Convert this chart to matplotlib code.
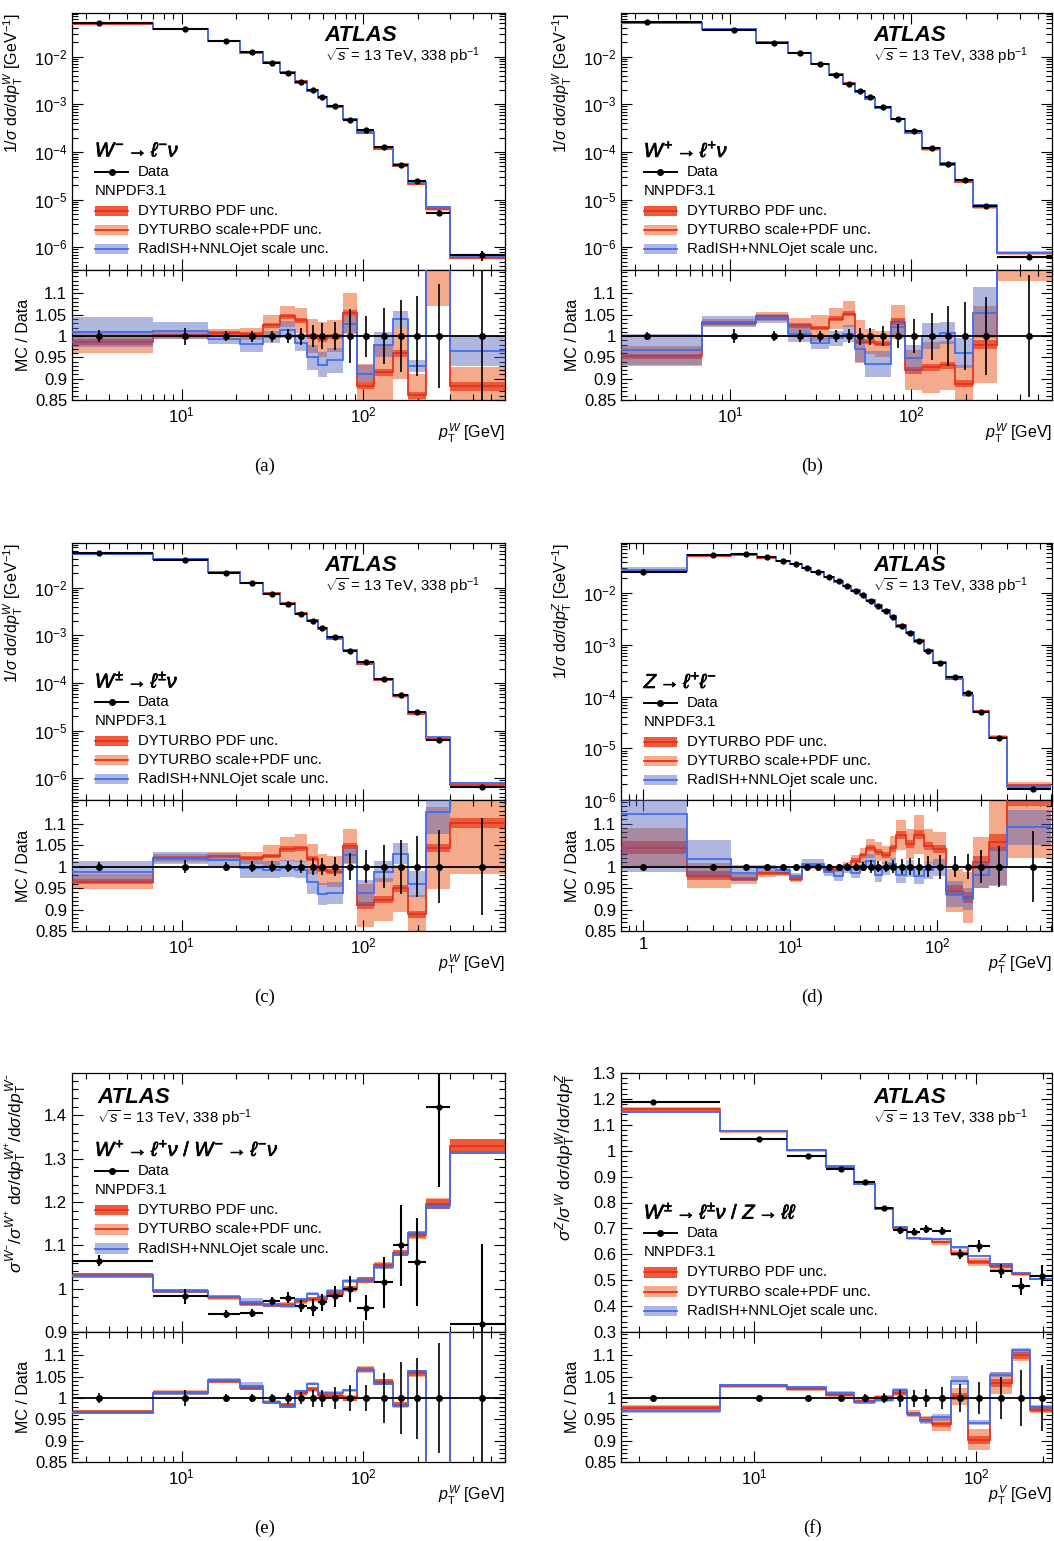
import numpy as np
import matplotlib
matplotlib.use("Agg")
import matplotlib.pyplot as plt
from matplotlib.lines import Line2D
from matplotlib.patches import Rectangle
from matplotlib import patheffects
from matplotlib.ticker import (LogLocator, NullFormatter, FixedLocator,
                               MultipleLocator, FuncFormatter)

plt.rcParams["font.family"] = ["Liberation Sans", "DejaVu Sans"]
plt.rcParams["mathtext.fontset"] = "custom"
plt.rcParams["mathtext.rm"] = "Liberation Sans"
plt.rcParams["mathtext.it"] = "Liberation Sans:italic"
plt.rcParams["mathtext.bf"] = "Liberation Sans:bold"
plt.rcParams["font.size"] = 10.8

# %% bin edges
edges_w = [0, 7, 14, 21, 28, 35, 42, 49, 56, 63, 77, 92, 115, 145, 175, 220, 300, 600]
edges_f = [0, 7, 14, 21, 28, 35, 42, 49, 56, 63, 77, 92, 115, 145, 175, 220]
edges_z = [0, 2, 4, 6, 8, 10, 12, 14, 17, 20, 23, 26, 30, 33, 38, 42, 48, 53, 62,
           70, 81, 94, 115, 150, 175, 225, 300, 600]

# %% (a) W- -> l- nu
wm_data = [5.0e-2, 3.8e-2, 2.13e-2, 1.23e-2, 7.5e-3, 4.6e-3, 2.9e-3, 2.0e-3, 1.44e-3,
           9.2e-4, 4.75e-4, 2.88e-4, 1.27e-4, 5.3e-5, 2.5e-5, 5.3e-6, 6.8e-7]
wm_err = [0.015, 0.02, 0.011, 0.013, 0.013, 0.016, 0.02, 0.026, 0.03, 0.033, 0.064,
          0.048, 0.065, 0.085, 0.094, 0.123, 0.25]
wm_dy = [0.986, 1.002, 1.007, 1.005, 1.025, 1.046, 1.037, 1.0, 0.992, 1.0, 1.054,
         0.884, 0.915, 0.96, 0.861, 1.18, 0.882]
wm_dy_pdf = [0.008, 0.004, 0.004, 0.005, 0.006, 0.006, 0.006, 0.006, 0.006, 0.006,
             0.008, 0.008, 0.008, 0.008, 0.008, 0.012, 0.01]
wm_dy_tot = [0.025, 0.008, 0.01, 0.015, 0.024, 0.025, 0.03, 0.04, 0.04, 0.037, 0.048,
             0.05, 0.065, 0.06, 0.05, 0.11, 0.045]
wm_rad = [1.009, 1.013, 0.992, 0.982, 0.998, 1.015, 0.984, 0.95, 0.933, 0.943, 1.028,
          0.912, 0.98, 1.039, 0.93, 1.3, 0.964]
wm_rad_hw = [0.035, 0.02, 0.01, 0.02, 0.015, 0.02, 0.02, 0.03, 0.03, 0.03, 0.02, 0.02,
             0.03, 0.02, 0.015, 0.1, 0.035]

# %% (b) W+ -> l+ nu
wp_data = [5.2e-2, 3.64e-2, 1.91e-2, 1.17e-2, 7.0e-3, 4.18e-3, 2.66e-3, 1.89e-3, 1.39e-3,
           8.85e-4, 4.8e-4, 2.77e-4, 1.23e-4, 5.7e-5, 2.62e-5, 7.2e-6, 6.2e-7]
wp_err = [0.01, 0.016, 0.012, 0.014, 0.013, 0.014, 0.017, 0.02, 0.02, 0.023, 0.028,
          0.04, 0.055, 0.07, 0.08, 0.092, 0.143]
wp_dy = [0.953, 1.031, 1.046, 1.025, 1.019, 1.041, 1.052, 0.987, 0.987, 0.982, 1.034,
         0.92, 0.927, 0.931, 0.888, 0.98, 1.2]
wp_dy_pdf = [0.006, 0.004, 0.004, 0.005, 0.005, 0.006, 0.006, 0.006, 0.006, 0.006,
             0.008, 0.008, 0.008, 0.008, 0.008, 0.01, 0.015]
wp_dy_tot = [0.023, 0.008, 0.01, 0.018, 0.03, 0.025, 0.03, 0.05, 0.03, 0.03, 0.04,
             0.047, 0.06, 0.057, 0.045, 0.09, 0.07]
wp_rad = [0.968, 1.034, 1.041, 1.005, 0.984, 0.995, 1.005, 0.97, 0.935, 0.935, 1.021,
          0.948, 1.0, 1.007, 0.96, 1.055, 1.25]
wp_rad_hw = [0.037, 0.012, 0.01, 0.02, 0.015, 0.018, 0.02, 0.03, 0.03, 0.03, 0.02,
             0.03, 0.03, 0.025, 0.035, 0.06, 0.08]

# %% (c) W+- -> l+- nu
wc_data = [5.3e-2, 3.85e-2, 2.07e-2, 1.24e-2, 7.47e-3, 4.52e-3, 2.82e-3, 2.04e-3,
           1.45e-3, 9.1e-4, 4.7e-4, 2.78e-4, 1.24e-4, 5.5e-5, 2.48e-5, 6.4e-6, 6.5e-7]
wc_err = [0.01, 0.015, 0.01, 0.012, 0.012, 0.013, 0.015, 0.02, 0.02, 0.022, 0.032,
          0.038, 0.05, 0.063, 0.071, 0.085, 0.113]
wc_dy = [0.965, 1.02, 1.024, 1.02, 1.024, 1.041, 1.043, 1.018, 0.993, 0.988, 1.048,
         0.91, 0.923, 0.949, 0.889, 1.043, 1.102]
wc_dy_pdf = [0.006, 0.004, 0.004, 0.005, 0.005, 0.006, 0.006, 0.006, 0.006, 0.006,
             0.008, 0.008, 0.008, 0.008, 0.008, 0.01, 0.012]
wc_dy_tot = [0.018, 0.01, 0.01, 0.015, 0.026, 0.028, 0.032, 0.035, 0.036, 0.036,
             0.04, 0.05, 0.05, 0.055, 0.045, 0.095, 0.12]
wc_rad = [0.988, 1.02, 1.016, 0.996, 0.993, 0.996, 0.993, 0.965, 0.936, 0.938, 1.026,
          0.938, 0.988, 1.03, 0.959, 1.127, 1.25]
wc_rad_hw = [0.025, 0.015, 0.015, 0.022, 0.02, 0.02, 0.02, 0.03, 0.025, 0.025, 0.02,
             0.03, 0.025, 0.025, 0.03, 0.05, 0.05]

# %% (d) Z -> ll
z_data = [0.0252, 0.0538, 0.0571, 0.0493, 0.0425, 0.0372, 0.0306, 0.0252, 0.0205,
          0.0169, 0.0135, 0.0111, 0.0090, 0.0071, 0.0057, 0.0046, 0.0034, 0.00227,
          0.00168, 0.00116, 7.6e-4, 4.4e-4, 2.36e-4, 1.15e-4, 5.1e-5, 1.55e-5, 1.66e-6]
z_err = [0.004, 0.004, 0.004, 0.004, 0.004, 0.004, 0.005, 0.006, 0.006, 0.007, 0.008,
         0.008, 0.01, 0.015, 0.012, 0.012, 0.015, 0.017, 0.02, 0.02, 0.025, 0.028,
         0.025, 0.03, 0.038, 0.048, 0.082]
z_dy = [1.044, 0.979, 0.971, 0.984, 0.984, 0.971, 1.002, 1.001, 0.993, 0.993, 1.002,
        1.014, 1.026, 1.043, 1.035, 1.027, 1.043, 1.073, 1.053, 1.074, 1.048, 1.041,
        0.944, 0.928, 1.01, 1.057, 1.17]
z_dy_pdf = [0.015, 0.01, 0.005, 0.004, 0.004, 0.004, 0.003, 0.003, 0.003, 0.004, 0.004,
            0.005, 0.006, 0.007, 0.007, 0.007, 0.008, 0.009, 0.009, 0.01, 0.01, 0.01,
            0.012, 0.012, 0.015, 0.02, 0.03]
z_dy_tot = [0.045, 0.03, 0.012, 0.008, 0.006, 0.006, 0.005, 0.005, 0.005, 0.006, 0.008,
            0.012, 0.018, 0.022, 0.022, 0.022, 0.028, 0.035, 0.035, 0.045, 0.04, 0.04,
            0.05, 0.06, 0.06, 0.1, 0.15]
z_rad = [1.123, 1.018, 0.985, 0.996, 0.991, 0.979, 1.006, 1.006, 0.988, 0.979, 0.996,
         0.985, 1.002, 1.014, 0.98, 0.996, 1.006, 0.98, 0.995, 0.979, 0.991, 0.998,
         0.936, 0.924, 0.98, 1.0, 1.091]
z_rad_hw = [0.135, 0.045, 0.018, 0.008, 0.006, 0.006, 0.012, 0.012, 0.01, 0.012, 0.01,
            0.012, 0.012, 0.015, 0.015, 0.015, 0.015, 0.018, 0.02, 0.02, 0.02, 0.02,
            0.03, 0.025, 0.03, 0.045, 0.04]

# %% (e) W+ / W- ratio
pm_data = [1.065, 0.982, 0.942, 0.943, 0.972, 0.979, 0.96, 0.956, 0.969, 0.982, 1.0,
           0.956, 1.015, 1.1, 1.062, 1.42, 0.919]
pm_err = [0.012, 0.018, 0.01, 0.01, 0.01, 0.013, 0.015, 0.02, 0.02, 0.025, 0.03, 0.03,
          0.058, 0.085, 0.095, 0.13, 0.2]
pm_dy = [0.968, 1.013, 1.04, 1.024, 0.99, 0.984, 1.012, 1.021, 1.008, 1.006, 1.0, 1.067,
         1.038, 0.984, 1.058, 0.842, 1.447]
pm_dy_pdf = [0.004, 0.004, 0.004, 0.004, 0.004, 0.004, 0.005, 0.005, 0.005, 0.005,
             0.006, 0.007, 0.006, 0.006, 0.007, 0.008, 0.016]
pm_dy_tot = [0.005, 0.005, 0.005, 0.005, 0.005, 0.005, 0.006, 0.006, 0.006, 0.006,
             0.007, 0.008, 0.007, 0.007, 0.008, 0.009, 0.018]
pm_rad = [0.966, 1.012, 1.042, 1.028, 0.99, 0.98, 1.016, 1.034, 1.013, 1.013, 1.018,
          1.067, 1.034, 0.982, 1.063, 0.838, 1.43]
pm_rad_hw = [0.004, 0.004, 0.004, 0.01, 0.004, 0.004, 0.004, 0.004, 0.004, 0.004,
             0.004, 0.004, 0.004, 0.004, 0.004, 0.004, 0.004]

# %% (f) W / Z ratio
wz_data = [1.187, 1.045, 0.98, 0.928, 0.879, 0.779, 0.693, 0.687, 0.696, 0.69, 0.602,
           0.632, 0.535, 0.476, 0.517]
wz_err = [0.005, 0.005, 0.005, 0.006, 0.01, 0.012, 0.02, 0.02, 0.022, 0.025, 0.033,
          0.038, 0.05, 0.066, 0.078]
wz_dy = [0.977, 1.029, 1.022, 1.008, 0.992, 1.002, 1.012, 0.963, 0.949, 0.938, 1.004,
         0.902, 1.035, 1.1, 0.973]
wz_dy_pdf = [0.005, 0.004, 0.004, 0.004, 0.004, 0.004, 0.005, 0.005, 0.006, 0.006,
             0.008, 0.01, 0.01, 0.008, 0.006]
wz_dy_tot = [0.006, 0.005, 0.005, 0.005, 0.005, 0.005, 0.006, 0.008, 0.01, 0.015,
             0.02, 0.025, 0.025, 0.012, 0.008]
wz_rad = [0.969, 1.03, 1.025, 1.012, 0.99, 0.995, 1.02, 0.963, 0.947, 0.955, 1.041,
          0.942, 1.055, 1.112, 0.979]
wz_rad_hw = [0.004, 0.004, 0.004, 0.004, 0.004, 0.004, 0.004, 0.004, 0.005, 0.008,
             0.01, 0.006, 0.006, 0.006, 0.005]

# colours
SALMON = "#F5AA8C"
DARKRED = "#EC5A3A"
RED = "#E8321E"
LAVENDER = "#5060B8"
BLUE = "#3E6FF2"
BAND_ALPHA = 0.45
TICKSIZE = 12

W, H = 1054, 1541
fig = plt.figure(figsize=(W / 100, H / 100), dpi=100)


def make_axes(col, row):
    left = [72, 621][col]
    width = [433, 431][col]
    mtop, mbot, rbot = [(13, 270, 400), (543, 800, 931), (1073, 1332, 1462)][row]
    ax = fig.add_axes([left / W, 1 - mbot / H, width / W, (mbot - mtop) / H])
    rax = fig.add_axes([left / W, 1 - rbot / H, width / W, (rbot - mbot) / H])
    return ax, rax


def draw(ax, rax, edges, xlo, data, err, dy, dy_pdf, dy_tot, rad, rad_hw):
    edges = np.array(edges, float)
    e = edges.copy()
    e[0] = xlo
    cen = 0.5 * (edges[:-1] + edges[1:])
    data, err = np.asarray(data), np.asarray(err)
    dy, dy_pdf, dy_tot = np.asarray(dy), np.asarray(dy_pdf), np.asarray(dy_tot)
    rad, rad_hw = np.asarray(rad), np.asarray(rad_hw)

    for a, s in ((ax, data), (rax, np.ones_like(data))):
        a.stairs(s * (dy + dy_tot), e, baseline=s * (dy - dy_tot), fill=True,
                 color=SALMON, lw=0, zorder=1)
        a.stairs(s * (dy + dy_pdf), e, baseline=s * (dy - dy_pdf), fill=True,
                 color=DARKRED, lw=0, zorder=2)
        a.stairs(s * dy, e, baseline=None, color=RED, lw=1.3, zorder=3)
        a.stairs(s * (rad + rad_hw), e, baseline=s * (rad - rad_hw), fill=True,
                 color=LAVENDER, alpha=BAND_ALPHA, lw=0, zorder=4)
        a.stairs(s * rad, e, baseline=None, color=BLUE, lw=1.3, zorder=5)

    ax.errorbar(cen, data, yerr=data * err, xerr=[cen - e[:-1], e[1:] - cen],
                fmt="o", color="k", ms=3.5, lw=1.5, capsize=0, zorder=7)
    rax.axhline(1.0, color="k", lw=1.3, zorder=6)
    rax.errorbar(cen, np.ones_like(cen), yerr=err, fmt="o", color="k", ms=4,
                 lw=1.2, capsize=0, zorder=7)


def style(ax, rax, xlim, xlabel, ylabel, logy, ylim, yticks=None, zformat=False,
          ylabelsize=11.5, ylabelx=-0.108):
    for a in (ax, rax):
        a.set_xscale("log")
        a.set_xlim(xlim)
        a.xaxis.set_minor_locator(LogLocator(subs=np.arange(2, 10) * 1.0, numticks=30))
        a.tick_params(which="both", direction="in", top=True, right=True,
                      labelsize=TICKSIZE, width=0.8)
        a.tick_params(which="major", length=8)
        a.tick_params(which="minor", length=4.5)
        for sp in a.spines.values():
            sp.set_linewidth(0.9)
    ax.tick_params(labelbottom=False)
    rax.tick_params(axis="x", pad=4)
    if zformat:
        rax.xaxis.set_major_formatter(FuncFormatter(
            lambda v, _: "1" if abs(v - 1) < 1e-9 else r"$10^{%d}$" % round(np.log10(v))))
    if logy:
        ax.set_yscale("log")
        ax.yaxis.set_major_locator(LogLocator(base=10, numticks=20))
        ax.yaxis.set_minor_locator(LogLocator(subs=np.arange(2, 10) * 1.0, numticks=50))
        ax.yaxis.set_minor_formatter(NullFormatter())
    else:
        ax.yaxis.set_major_locator(FixedLocator(yticks))
        ax.yaxis.set_minor_locator(MultipleLocator(0.02))
        ax.yaxis.set_major_formatter(FuncFormatter(lambda v, _: f"{v:g}"))
    ax.set_ylim(ylim)
    rax.set_ylim(0.85, 1.155)
    rax.yaxis.set_major_locator(FixedLocator([0.85, 0.9, 0.95, 1.0, 1.05, 1.1]))
    rax.yaxis.set_minor_locator(MultipleLocator(0.01))
    rax.yaxis.set_major_formatter(FuncFormatter(lambda v, _: f"{v:g}"))

    ax.set_ylabel(ylabel, loc="top", fontsize=ylabelsize)
    ax.yaxis.set_label_coords(ylabelx, 1.0)
    rax.set_ylabel("MC / Data", fontsize=11.5)
    rax.yaxis.set_label_coords(-0.095, 0.5)
    rax.set_xlabel(xlabel, loc="right", fontsize=11.5)
    rax.xaxis.set_label_coords(1.0, -0.17)


def atlas(ax, x, y):
    ax.text(x, y, "ATLAS", transform=ax.transAxes, fontsize=16, fontweight="bold",
            fontstyle="italic", va="center")
    ax.text(x, y - 0.083, r"$\sqrt{s}$ = 13 TeV, 338 pb$^{-1}$", transform=ax.transAxes,
            fontsize=10.8, va="center")


def legend(ax, title, y0):
    x0, w, h = 0.053, 0.077, 0.04
    xt = x0 + 0.099
    t = ax.text(x0, y0, title, transform=ax.transAxes, fontsize=14.5, va="center")
    t.set_path_effects([patheffects.withStroke(linewidth=0.5, foreground="k")])
    r_data, r_nn, r_pdf, r_tot, r_rad = [y0 - d for d in (0.082, 0.156, 0.233, 0.307, 0.381)]

    ax.add_line(Line2D([x0, x0 + w], [r_data, r_data], transform=ax.transAxes,
                       color="k", lw=1.4, clip_on=False))
    ax.add_line(Line2D([x0 + w / 2], [r_data], transform=ax.transAxes, color="k",
                       marker="o", ms=4, clip_on=False))
    ax.text(xt, r_data, "Data", transform=ax.transAxes, va="center")
    ax.text(x0, r_nn, "NNPDF3.1", transform=ax.transAxes, va="center")

    entries = [(r_pdf, DARKRED, 1.0, RED, "DYTURBO PDF unc."),
               (r_tot, SALMON, 1.0, RED, "DYTURBO scale+PDF unc."),
               (r_rad, LAVENDER, BAND_ALPHA, BLUE, "RadISH+NNLOjet scale unc.")]
    for y, fc, al, lc, lab in entries:
        ax.add_patch(Rectangle((x0, y - h / 2), w, h, transform=ax.transAxes,
                               facecolor=fc, alpha=al, lw=0, clip_on=False))
        ax.add_line(Line2D([x0, x0 + w], [y, y], transform=ax.transAxes, color=lc,
                           lw=1.3, clip_on=False))
        ax.text(xt, y, lab, transform=ax.transAxes, va="center")


xl_w = r"$p_{\mathrm{T}}^{W}$ [GeV]"
yl_w = r"$1/\sigma\ \mathrm{d}\sigma/\mathrm{d}p_{\mathrm{T}}^{W}$ [GeV$^{-1}$]"
yl_z = r"$1/\sigma\ \mathrm{d}\sigma/\mathrm{d}p_{\mathrm{T}}^{Z}$ [GeV$^{-1}$]"

# (a)
ax, rax = make_axes(0, 0)
draw(ax, rax, edges_w, 2.5, wm_data, wm_err, wm_dy, wm_dy_pdf, wm_dy_tot, wm_rad, wm_rad_hw)
style(ax, rax, (2.5, 600), xl_w, yl_w, True, (3.33e-7, 0.082))
atlas(ax, 0.584, 0.914)
legend(ax, r"$W^{-}\rightarrow\ell^{-}\nu$", 0.463)

# (b)
ax, rax = make_axes(1, 0)
draw(ax, rax, edges_w, 2.5, wp_data, wp_err, wp_dy, wp_dy_pdf, wp_dy_tot, wp_rad, wp_rad_hw)
style(ax, rax, (2.5, 600), xl_w, yl_w, True, (3.33e-7, 0.082))
atlas(ax, 0.585, 0.914)
legend(ax, r"$W^{+}\rightarrow\ell^{+}\nu$", 0.463)

# (c)
ax, rax = make_axes(0, 1)
draw(ax, rax, edges_w, 2.5, wc_data, wc_err, wc_dy, wc_dy_pdf, wc_dy_tot, wc_rad, wc_rad_hw)
style(ax, rax, (2.5, 600), xl_w, yl_w, True, (3.5e-7, 0.087))
atlas(ax, 0.584, 0.914)
legend(ax, r"$W^{\pm}\rightarrow\ell^{\pm}\nu$", 0.463)

# (d)
ax, rax = make_axes(1, 1)
draw(ax, rax, edges_z, 0.71, z_data, z_err, z_dy, z_dy_pdf, z_dy_tot, z_rad, z_rad_hw)
style(ax, rax, (0.71, 605), r"$p_{\mathrm{T}}^{Z}$ [GeV]", yl_z, True, (1e-6, 0.093),
      zformat=True)
atlas(ax, 0.585, 0.914)
legend(ax, r"$Z\rightarrow\ell^{+}\ell^{-}$", 0.459)

# (e)
ax, rax = make_axes(0, 2)
draw(ax, rax, edges_w, 2.5, pm_data, pm_err, pm_dy, pm_dy_pdf, pm_dy_tot, pm_rad, pm_rad_hw)
style(ax, rax, (2.5, 600), xl_w,
      r"$\sigma^{W^{-}}/\sigma^{W^{+}}\ \mathrm{d}\sigma/\mathrm{d}p_{\mathrm{T}}^{W^{+}}"
      r"/\mathrm{d}\sigma/\mathrm{d}p_{\mathrm{T}}^{W^{-}}$",
      False, (0.9, 1.498), yticks=[0.9, 1.0, 1.1, 1.2, 1.3, 1.4], ylabelsize=12.5,
      ylabelx=-0.1)
atlas(ax, 0.058, 0.907)
legend(ax, r"$W^{+}\rightarrow\ell^{+}\nu\ /\ W^{-}\rightarrow\ell^{-}\nu$", 0.703)

# (f)
ax, rax = make_axes(1, 2)
draw(ax, rax, edges_f, 2.5, wz_data, wz_err, wz_dy, wz_dy_pdf, wz_dy_tot, wz_rad, wz_rad_hw)
style(ax, rax, (2.5, 220), r"$p_{\mathrm{T}}^{V}$ [GeV]",
      r"$\sigma^{Z}/\sigma^{W}\ \mathrm{d}\sigma/\mathrm{d}p_{\mathrm{T}}^{W}"
      r"/\mathrm{d}\sigma/\mathrm{d}p_{\mathrm{T}}^{Z}$",
      False, (0.3, 1.3), yticks=list(np.round(np.arange(0.3, 1.31, 0.1), 1)),
      ylabelsize=12.5, ylabelx=-0.1)
atlas(ax, 0.585, 0.907)
legend(ax, r"$W^{\pm}\rightarrow\ell^{\pm}\nu\ /\ Z\rightarrow\ell\ell$", 0.463)

# panel letters
for lab, xc, yc in (("(a)", 265, 466), ("(b)", 812, 466), ("(c)", 265, 997),
                    ("(d)", 812, 997), ("(e)", 265, 1528), ("(f)", 812, 1528)):
    fig.text(xc / W, 1 - yc / H, lab, family="Liberation Serif", fontsize=13.5,
             ha="center", va="center")

fig.savefig("out.png", dpi=100)
